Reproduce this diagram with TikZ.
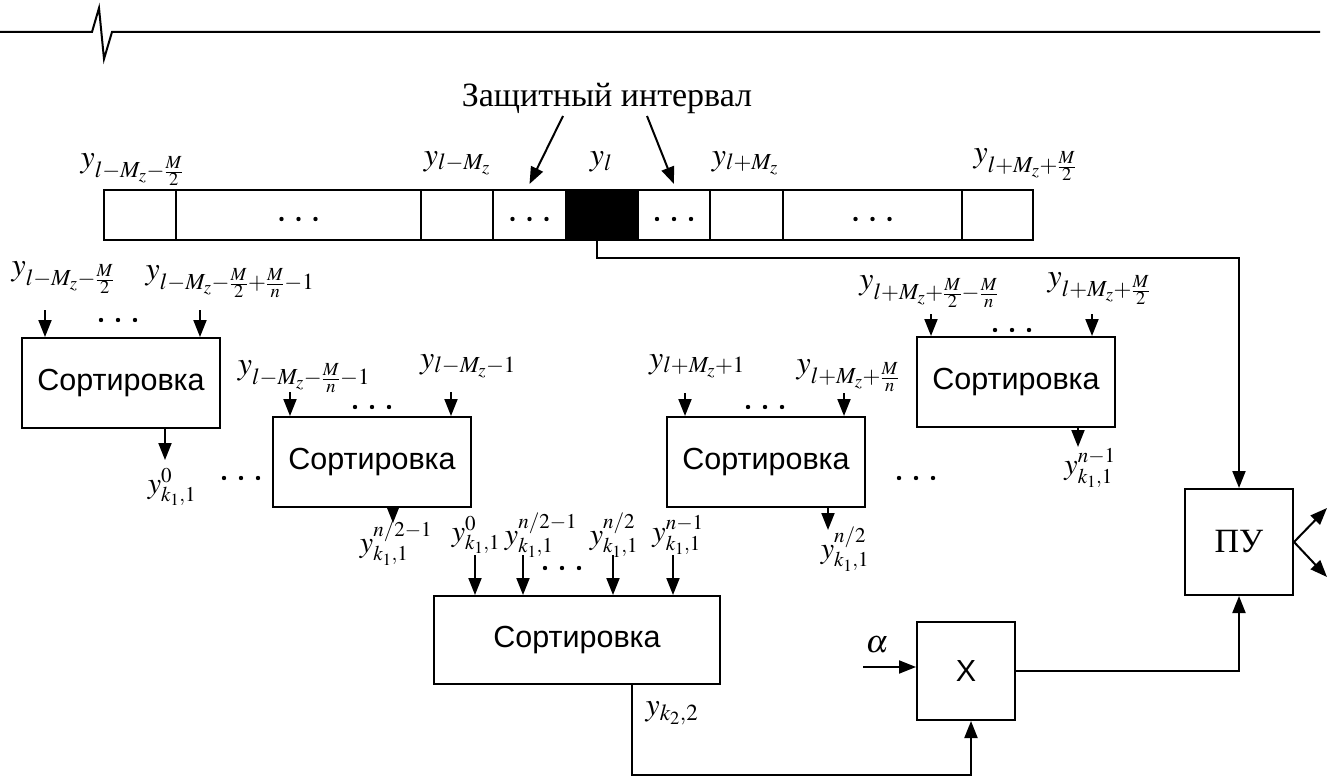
\documentclass[tikz,border=0pt]{standalone}
\usepackage{mathptmx}
\usepackage[no-math]{fontspec}
\setmainfont{Liberation Serif}
\newfontfamily\arialf{Liberation Sans}
\usetikzlibrary{arrows.meta}
\DeclareMathSizes{32}{32}{23}{18.5}
\DeclareMathSizes{30}{30}{21}{17}
\newcommand\lblsz{\fontsize{32}{36}\selectfont}
\newcommand\smlblsz{\fontsize{30}{34}\selectfont}
\begin{document}
\begin{tikzpicture}[x=1pt,y=-1pt,
  cell/.style={draw,line width=2pt,minimum height=50pt,inner sep=0,outer sep=0},
  sbox/.style={draw,line width=2pt,minimum width=198pt,minimum height=90pt,inner sep=0,font=\arialf\fontsize{30.5}{34}\selectfont},
  lbl/.style={inner sep=0,font=\lblsz},
  slbl/.style={inner sep=0,font=\smlblsz},
  arr/.style={line width=2pt,-{Triangle[length=17pt,width=13pt]}},
  threedots/.pic={\foreach \i in {-1,0,1} \fill (\i*17,0) circle (2.2pt);}
]
\useasboundingbox (0,0) rectangle (1342,778);
% header line
\draw[line width=2pt] (0,32) -- (92,32) -- (99,8) -- (104,59) -- (112,32) -- (1320,32);
% guard interval
\node[inner sep=0,font=\fontsize{34}{38}\selectfont] (gi) at (607,98) {Защитный интервал};
% top row cells
\node[cell,minimum width=72pt] (c1) at (140,215) {};
\node[cell,minimum width=245pt] (c2) at (298.5,215) {};
\node[cell,minimum width=72pt] (c3) at (457,215) {};
\node[cell,minimum width=73pt] (c4) at (529.5,215) {};
\node[cell,minimum width=72pt,fill=black] (c5) at (602,215) {};
\node[cell,minimum width=72pt] (c6) at (674,215) {};
\node[cell,minimum width=73pt] (c7) at (746.5,215) {};
\node[cell,minimum width=179pt] (c8) at (872.5,215) {};
\node[cell,minimum width=71pt] (c9) at (997.5,215) {};
\pic at (298.5,219) {threedots};
\pic at (529.5,219) {threedots};
\pic at (674,219) {threedots};
\pic at (872.5,219) {threedots};
\coordinate (ga1) at (563,116);
\coordinate (ga2) at (647,116);
\draw[arr] (ga1) -- ([yshift=6pt]c4.north);
\draw[arr] (ga2) -- ([yshift=6pt]c6.north);
% top labels
\node[lbl] (t1) at (132,170) {$y_{l-M_z-\frac{M}{2}}$};
\node[lbl] (t2) at (457,163) {$y_{l-M_z}$};
\node[lbl] (t3) at (601,162) {$y_{l}$};
\node[lbl] (t4) at (745,163) {$y_{l+M_z}$};
\node[lbl] (t5) at (1025,165) {$y_{l+M_z+\frac{M}{2}}$};
% sorting boxes
\node[sbox] (b1) at (121,383) {Сортировка};
\node[sbox] (b2) at (372,462) {Сортировка};
\node[sbox] (b3) at (766,462) {Сортировка};
\node[sbox] (b4) at (1016,382) {Сортировка};
\node[sbox,minimum width=286pt,minimum height=88pt] (b5) at (577,640) {Сортировка};
\node[draw,line width=2pt,minimum width=98pt,minimum height=98pt,inner sep=0,font=\arialf\fontsize{30.5}{34}\selectfont] (xb) at (966,671) {X};
\node[draw,line width=2pt,minimum width=108pt,minimum height=106pt,inner sep=0,font=\fontsize{34}{38}\selectfont] (pu) at (1239,542) {ПУ};
% input arrows
\coordinate (i11) at (45,310);  \coordinate (i12) at (200,310);
\coordinate (i21) at (290,392); \coordinate (i22) at (451,392);
\coordinate (i31) at (685,393); \coordinate (i32) at (844,393);
\coordinate (i41) at (931,314); \coordinate (i42) at (1092,314);
\coordinate (i51) at (475,555); \coordinate (i52) at (523,555);
\coordinate (i53) at (613,555); \coordinate (i54) at (673,555);
\foreach \c/\b in {i11/b1,i12/b1,i21/b2,i22/b2,i31/b3,i32/b3,i41/b4,i42/b4,i51/b5,i52/b5,i53/b5,i54/b5}
  \draw[arr] (\c) -- (\c |- \b.north);
\pic at (118,320) {threedots};
\pic at (372,407) {threedots};
\pic at (765,407) {threedots};
\pic at (1012,330) {threedots};
\pic at (562,568) {threedots};
\pic at (241,478) {threedots};
\pic at (916,478) {threedots};
% input labels
\node[lbl] (l11) at (63,278) {$y_{l-M_z-\frac{M}{2}}$};
\node[lbl] (l12) at (230,282) {$y_{l-M_z-\frac{M}{2}+\frac{M}{n}-1}$};
\node[lbl] (l21) at (304,377) {$y_{l-M_z-\frac{M}{n}-1}$};
\node[lbl] (l22) at (468,366) {$y_{l-M_z-1}$};
\node[lbl] (l31) at (697,366) {$y_{l+M_z+1}$};
\node[lbl] (l32) at (848,376) {$y_{l+M_z+\frac{M}{n}}$};
\node[lbl] (l41) at (929,292) {$y_{l+M_z+\frac{M}{2}-\frac{M}{n}}$};
\node[lbl] (l42) at (1099,289) {$y_{l+M_z+\frac{M}{2}}$};
% output arrows
\coordinate (o1) at (165,460);
\coordinate (o2) at (393,523);
\coordinate (o3) at (828,530);
\coordinate (o4) at (1078,447);
\foreach \c/\b in {o1/b1,o2/b2,o3/b3,o4/b4}
  \draw[arr] (\c |- \b.south) -- (\c);
\node[slbl] (r1) at (172,487) {$y^{0}_{k_1,1}$};
\node[slbl] (r2) at (396,543) {$y^{n/2-1}_{k_1,1}$};
\node[slbl] (r3) at (845,549) {$y^{n/2}_{k_1,1}$};
\node[slbl] (r4) at (1090,468) {$y^{n-1}_{k_1,1}$};
\node[slbl] (s1) at (476,535) {$y^{0}_{k_1,1}$};
\node[slbl] (s2) at (541,535) {$y^{n/2-1}_{k_1,1}$};
\node[slbl] (s3) at (614,535) {$y^{n/2}_{k_1,1}$};
\node[slbl] (s4) at (678,535) {$y^{n-1}_{k_1,1}$};
% connections
\draw[arr] ([xshift=-5pt]c5.south) -- ++(0,18) -| (pu.north);
\draw[arr] (xb.east) -| (pu.south);
\draw[arr] ([xshift=55pt]b5.south) -- ++(0,90) -| ([xshift=5pt]xb.south);
\node[lbl] (yk2) at (672,713) {$y_{k_2,2}$};
\coordinate (al) at (863,667);
\draw[arr] (al) -- (al -| xb.west);
\node[lbl] (alab) at (877,645) {$\alpha$};
\coordinate (pu1) at (1327,508);
\coordinate (pu2) at (1327,577);
\draw[arr] (pu.east) -- (pu1);
\draw[arr] (pu.east) -- (pu2);
\end{tikzpicture}
\end{document}
